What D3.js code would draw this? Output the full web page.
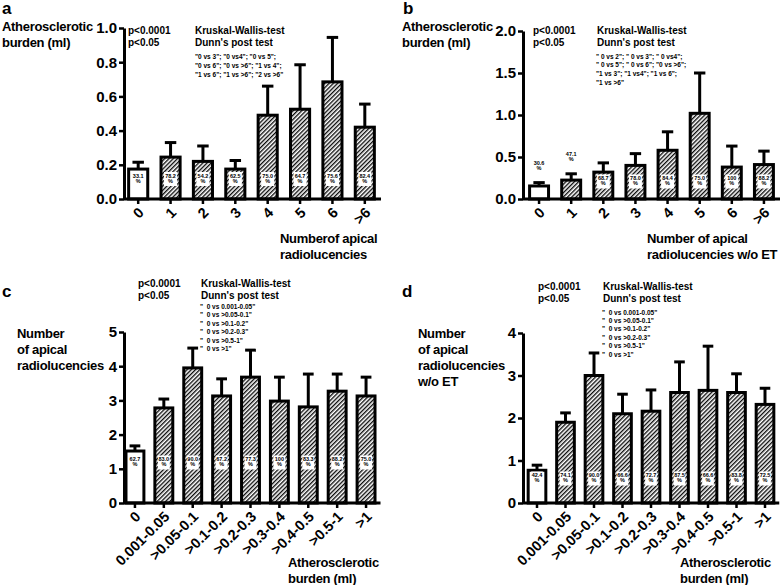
<!DOCTYPE html>
<html>
<head>
<meta charset="utf-8">
<script src="https://cdn.jsdelivr.net/npm/d3@7"></script>
<style>
  body { margin: 0; background: #fff; }
  svg text { font-family: "Liberation Sans", Arial, sans-serif; font-weight: bold; fill: #000; }
  .pre { white-space: pre; }
</style>
</head>
<body>
<svg id="chart" width="782" height="585"></svg>
<script>
// categories
const catsCount = ["0", "1", "2", "3", "4", "5", "6", ">6"];
const catsBurden = ["0", "0.001-0.05", ">0.05-0.1", ">0.1-0.2", ">0.2-0.3", ">0.3-0.4", ">0.4-0.5", ">0.5-1", ">1"];

// a: atherosclerotic burden by number of apical radiolucencies
const meanA = [0.175, 0.245, 0.22, 0.175, 0.49, 0.525, 0.685, 0.42];
const semA = [0.04, 0.085, 0.09, 0.05, 0.17, 0.26, 0.26, 0.135];
const pctA = ["33.1", "78.2", "54.2", "62.5", "75.0", "64.7", "75.6", "82.4"];

// b: atherosclerotic burden by number of apical radiolucencies w/o ET
const meanB = [0.155, 0.225, 0.32, 0.4, 0.58, 1.02, 0.38, 0.41];
const semB = [0.04, 0.075, 0.11, 0.14, 0.22, 0.48, 0.25, 0.16];
const pctB = ["30.6", "47.1", "68.7", "78.0", "84.4", "75.0", "100", "88.2"];

// c: number of apical radiolucencies by atherosclerotic burden
const meanC = [1.52, 2.78, 3.95, 3.13, 3.68, 2.98, 2.81, 3.27, 3.13];
const semC = [0.15, 0.26, 0.58, 0.5, 0.79, 0.7, 0.96, 0.5, 0.55];
const pctC = ["62.7", "83.0", "90.0", "67.2", "77.3", "100", "83.3", "88.2", "75.0"];

// d: number of apical radiolucencies w/o ET by atherosclerotic burden
const meanD = [0.77, 1.9, 3.0, 2.1, 2.16, 2.6, 2.65, 2.6, 2.32];
const semD = [0.12, 0.22, 0.53, 0.46, 0.5, 0.72, 1.04, 0.44, 0.38];
const pctD = ["42.4", "74.1", "90.0", "66.6", "72.7", "87.5", "66.6", "83.8", "72.5"];

// post-test notes
const postA = ['"0 vs 3"; "0 vs4"; "0 vs 5";', '"0 vs 6"; "0 vs >6"; "1 vs 4";', '"1 vs 6"; "1 vs >6"; "2 vs >6"'];
const postB = ['" 0 vs 2"; " 0 vs 3"; " 0 vs4";', '" 0 vs 5"; " 0 vs 6"; "0 vs >6";', '"1 vs 3"; "1 vs4"; "1 vs 6";', '"1 vs >6"'];
const postCD = ['"  0 vs 0.001-0.05"', '"  0 vs >0.05-0.1"', '"  0 vs >0.1-0.2"', '"  0 vs >0.2-0.3"', '"  0 vs >0.5-1"', '"  0 vs >1"'];

const ticksA = [0, 0.2, 0.4, 0.6, 0.8, 1.0];
const ticksB = [0, 0.5, 1.0, 1.5, 2.0];
const ticksC = [0, 1, 2, 3, 4, 5];
const ticksD = [0, 1, 2, 3, 4];

const svg = d3.select("#chart");

// diagonal hatch fill
const defs = svg.append("defs");
const pat = defs.append("pattern")
  .attr("id", "hatch")
  .attr("patternUnits", "userSpaceOnUse")
  .attr("width", 3)
  .attr("height", 3)
  .attr("patternTransform", "rotate(45)");
pat.append("rect").attr("width", 3).attr("height", 3).attr("fill", "#fff");
pat.append("line").attr("x1", 0.7).attr("y1", 0).attr("x2", 0.7).attr("y2", 3)
  .attr("stroke", "#000").attr("stroke-width", 1.3);

const panels = [
  {
    letter: "a", lx: 2, ly: 14, cats: catsCount, mean: meanA, sem: semA, pct: pctA, above: [],
    yDomain: [0, 1], yTicks: ticksA, fmt: d3.format(".1f"),
    axisX: 124, xRange: [122, 381], yRange: [199, 28], pad: 0.41, boxY: 179,
    yTitle: ["Atherosclerotic", "burden (ml)"], yTitleX: 2, yTitleY: 31,
    xTitle: ["Numberof apical", "radiolucencies"], xTitleX: 280, xTitleY: 243,
    pX: 128, pY: 34, kX: 195, post: postA, postX: 195, postY: 58.5, postDy: 9
  },
  {
    letter: "b", lx: 403, ly: 14, cats: catsCount, mean: meanB, sem: semB, pct: pctB, above: [0, 1],
    yDomain: [0, 2], yTicks: ticksB, fmt: d3.format(".1f"),
    axisX: 523, xRange: [523, 780], yRange: [199, 31], pad: 0.41, boxY: 181.5,
    yTitle: ["Atherosclerotic", "burden (ml)"], yTitleX: 402, yTitleY: 31,
    xTitle: ["Number of apical", "radiolucencies w/o ET"], xTitleX: 647, xTitleY: 243,
    pX: 533, pY: 34, kX: 597, post: postB, postX: 596, postY: 58.5, postDy: 8.8
  },
  {
    letter: "c", lx: 2, ly: 297, cats: catsBurden, mean: meanC, sem: semC, pct: pctC, above: [],
    yDomain: [0, 5], yTicks: ticksC, fmt: d3.format("d"),
    axisX: 124, xRange: [120.5, 380.5], yRange: [503, 332], pad: 0.38, boxY: 462.5,
    yTitle: ["Number", "of apical", "radiolucencies"], yTitleX: 17, yTitleY: 338,
    xTitle: ["Atherosclerotic", "burden (ml)"], xTitleX: 288, xTitleY: 567,
    pX: 138, pY: 287, kX: 201, post: postCD, postX: 200, postY: 308.5, postDy: 8.5
  },
  {
    letter: "d", lx: 402, ly: 297, cats: catsBurden, mean: meanD, sem: semD, pct: pctD, above: [],
    yDomain: [0, 4], yTicks: ticksD, fmt: d3.format("d"),
    axisX: 523, xRange: [522.75, 779.25], yRange: [503, 333], pad: 0.38, boxY: 478.5,
    yTitle: ["Number", "of apical", "radiolucencies", "w/o ET"], yTitleX: 418, yTitleY: 338,
    xTitle: ["Atherosclerotic", "burden (ml)"], xTitleX: 680, xTitleY: 567,
    pX: 538, pY: 290, kX: 603, post: postCD, postX: 602, postY: 314.5, postDy: 8.4
  }
];

panels.forEach(drawPanel);

function drawPanel(p) {
  const g = svg.append("g");

  const x = d3.scaleBand()
    .domain(p.cats)
    .range(p.xRange)
    .paddingInner(p.pad)
    .paddingOuter(p.pad / 2);

  const y = d3.scaleLinear().domain(p.yDomain).range(p.yRange);
  const bw = x.bandwidth();
  const rows = p.cats.map((c, i) => ({ c, i, mean: p.mean[i], sem: p.sem[i], pct: p.pct[i] }));

  // error bars (upper only)
  const err = g.append("g").attr("stroke", "#000").attr("stroke-width", 3);
  err.selectAll(".stem").data(rows).enter().append("line")
    .attr("x1", d => x(d.c) + bw / 2).attr("x2", d => x(d.c) + bw / 2)
    .attr("y1", d => y(d.mean)).attr("y2", d => y(d.mean + d.sem));
  err.selectAll(".cap").data(rows).enter().append("line")
    .attr("x1", d => x(d.c) + bw * 0.2).attr("x2", d => x(d.c) + bw * 0.8)
    .attr("y1", d => y(d.mean + d.sem)).attr("y2", d => y(d.mean + d.sem));

  // bars
  g.selectAll(".bar").data(rows).enter().append("rect")
    .attr("x", d => x(d.c))
    .attr("width", bw)
    .attr("y", d => y(d.mean))
    .attr("height", d => y(0) - y(d.mean))
    .attr("fill", d => (d.i === 0 ? "#fff" : "url(#hatch)"))
    .attr("stroke", "#000")
    .attr("stroke-width", 3);

  // percentage labels
  const inside = rows.filter(d => !p.above.includes(d.i));
  g.selectAll(".box").data(inside).enter().append("rect")
    .attr("x", d => x(d.c) + 3)
    .attr("width", bw - 6)
    .attr("y", p.boxY - 7)
    .attr("height", 14)
    .attr("fill", "#fff");
  const lab = g.selectAll(".pct").data(rows).enter().append("text")
    .attr("text-anchor", "middle")
    .attr("font-size", 5.5)
    .attr("x", d => x(d.c) + bw / 2)
    .attr("y", d => (p.above.includes(d.i) ? y(d.mean + d.sem) - 18 : p.boxY - 1.5));
  lab.append("tspan").text(d => d.pct);
  lab.append("tspan").attr("x", d => x(d.c) + bw / 2).attr("dy", 5).text("%");

  // y axis
  const yAxis = g.append("g")
    .attr("transform", `translate(${p.axisX},0)`)
    .call(d3.axisLeft(y).tickValues(p.yTicks).tickFormat(p.fmt).tickSize(5).tickSizeOuter(0).tickPadding(2));
  yAxis.select(".domain").attr("stroke-width", 3);
  yAxis.selectAll(".tick line").attr("stroke-width", 2.5);
  yAxis.selectAll("text")
    .attr("font-size", 15)
    .attr("font-family", "Liberation Sans, Arial, sans-serif");

  // x axis
  const xAxis = g.append("g")
    .attr("transform", `translate(0,${y(0)})`)
    .call(d3.axisBottom(x).tickSize(5).tickSizeOuter(0));
  xAxis.select(".domain").remove();
  xAxis.append("line")
    .attr("x1", p.axisX).attr("x2", x.range()[1])
    .attr("stroke", "#000").attr("stroke-width", 3);
  xAxis.selectAll(".tick line").attr("stroke-width", 2.5);
  xAxis.selectAll("text")
    .attr("font-size", 14.5)
    .attr("font-family", "Liberation Sans, Arial, sans-serif")
    .attr("text-anchor", "end")
    .attr("y", 0)
    .attr("dy", "0.35em")
    .attr("transform", "translate(3,11) rotate(-45)");

  // panel letter
  g.append("text").attr("x", p.lx).attr("y", p.ly).attr("font-size", 17).text(p.letter);

  // axis titles
  g.selectAll(".yt").data(p.yTitle).enter().append("text")
    .attr("x", p.yTitleX)
    .attr("y", (d, i) => p.yTitleY + i * 16)
    .attr("font-size", 13)
    .attr("letter-spacing", -0.3)
    .text(d => d);
  g.selectAll(".xt").data(p.xTitle).enter().append("text")
    .attr("x", p.xTitleX)
    .attr("y", (d, i) => p.xTitleY + i * 15.5)
    .attr("font-size", 13)
    .attr("letter-spacing", -0.3)
    .text(d => d);

  // statistics
  const stat = g.append("g").attr("font-size", 10);
  stat.append("text").attr("x", p.pX).attr("y", p.pY).text("p<0.0001");
  stat.append("text").attr("x", p.pX).attr("y", p.pY + 12).text("p<0.05");
  stat.append("text").attr("x", p.kX).attr("y", p.pY).text("Kruskal-Wallis-test");
  stat.append("text").attr("x", p.kX).attr("y", p.pY + 12).text("Dunn's post test");
  g.selectAll(".post").data(p.post).enter().append("text")
    .attr("class", "pre")
    .attr("x", p.postX)
    .attr("y", (d, i) => p.postY + i * p.postDy)
    .attr("font-size", 6.5)
    .text(d => d);
}
</script>
</body>
</html>
